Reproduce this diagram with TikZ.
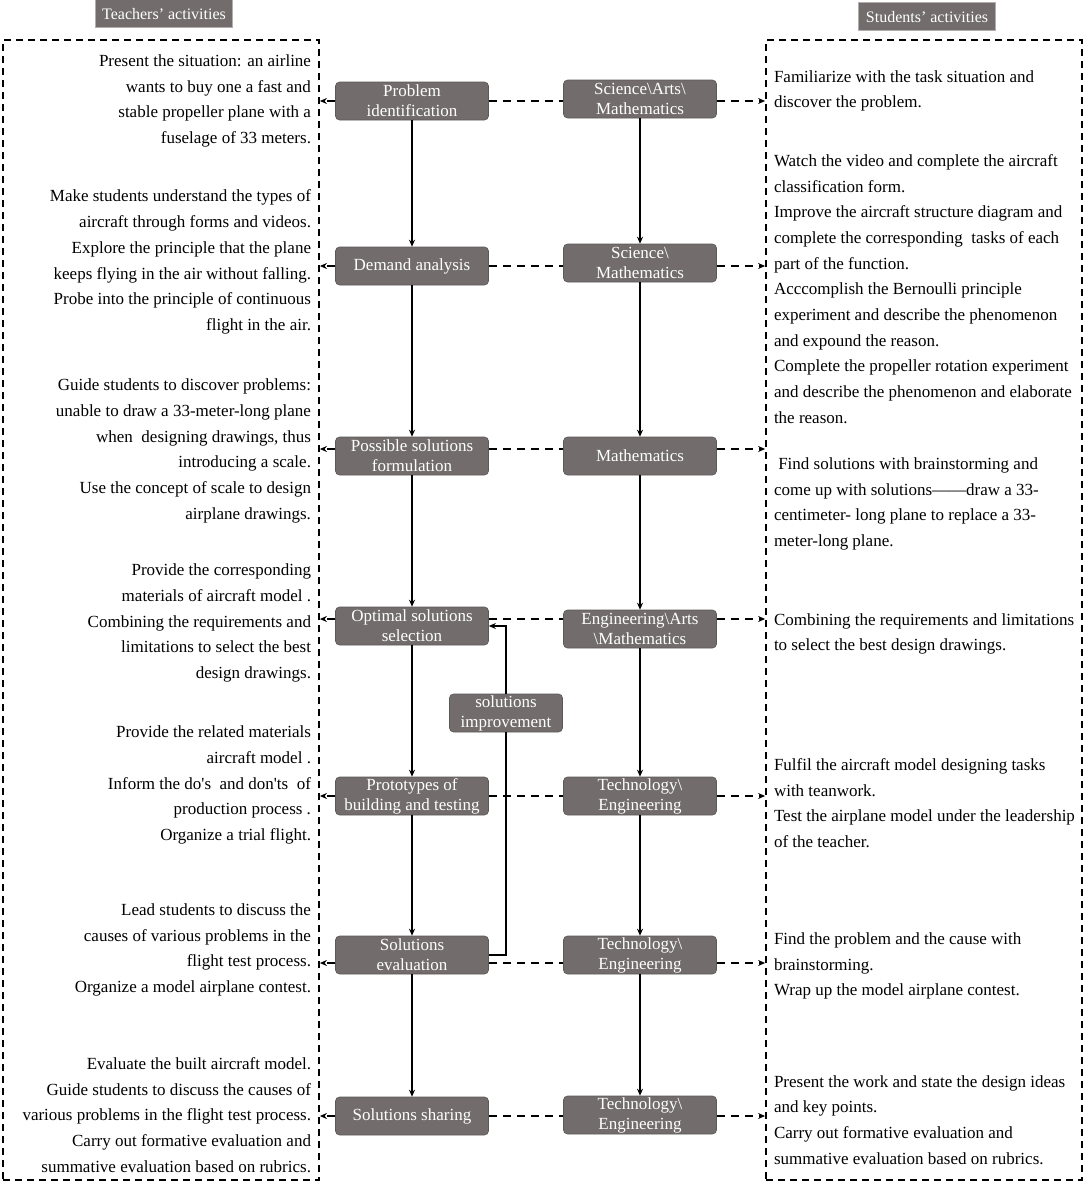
\documentclass[tikz,border=0pt]{standalone}
\usepackage{fontspec}
\usepackage{tikz}
\usetikzlibrary{shapes, arrows.meta, positioning}
\usepackage{xcolor}
\newfontfamily\tnr{Liberation Serif}
\definecolor{stagegray}{RGB}{114,108,108}
\definecolor{edgegray}{RGB}{92,88,88}

\begin{document}
\begin{tikzpicture}[x=1pt, y=-1pt, node distance=170pt]
            \tikzstyle{stage} = [rectangle, rounded corners=4pt, minimum width=153pt, minimum height=38pt, inner sep=0pt, text centered, align=center, fill=stagegray, draw=edgegray, line width=0.6pt, text=white, font=\tnr\fontsize{17}{20}\selectfont]
            \tikzstyle{headbox} = [rectangle, minimum width=137pt, minimum height=28pt, inner sep=0pt, fill=stagegray, draw=stagegray!55, line width=0.8pt, text=white, font=\tnr\fontsize{16}{17}\selectfont]
            \tikzstyle{lane} = [rectangle, draw=black, line width=1.8pt, dash pattern=on 7pt off 5pt, minimum width=316pt, minimum height=1140pt]
            \tikzstyle{tnote} = [inner sep=0pt, font=\tnr\fontsize{17}{25.7}\selectfont]
            \tikzstyle{arrow} = [line width=1.6pt, -{Stealth[length=7pt, width=6pt]}]
            \tikzstyle{link} = [line width=1.8pt, dash pattern=on 8pt off 6pt]
            \tikzstyle{tip} = [-{Stealth[length=7pt, width=6pt]}]
            \useasboundingbox (0,0) rectangle (1084,1183);

            % the two activity lanes
            \node (tf) [lane] at (161,610) {};
            \node (sf) [lane] at (924,610) {};
            \node (th) [headbox, above=11pt of tf, xshift=3pt] {Teachers’ activities};
            \node (sh) [headbox, above=8pt of sf, xshift=3pt] {Students’ activities};

            % stages
            \node (pi) [stage] at (412,101) {Problem\\identification};
            \node (da) [stage, below of=pi, yshift=5pt] {Demand analysis};
            \node (ps) [stage, below of=da, yshift=-20pt] {Possible solutions\\formulation};
            \node (os) [stage, below of=ps] {Optimal solutions\\selection};
            \node (pt) [stage, below of=os] {Prototypes of\\building and testing};
            \node (se) [stage, below of=pt, yshift=11pt] {Solutions\\evaluation};
            \node (ss) [stage, below of=se, yshift=9pt] {Solutions sharing};
            \node (si) [stage, minimum width=113pt, right of=os, xshift=-76pt, yshift=-87pt] {solutions\\improvement};

            % subjects
            \node (sam) [stage, right of=pi, xshift=58pt, yshift=2pt] {Science\textbackslash Arts\textbackslash\\Mathematics};
            \node (sm) [stage, right of=da, xshift=58pt, yshift=3pt] {Science\textbackslash\\Mathematics};
            \node (ma) [stage, right of=ps, xshift=58pt] {Mathematics};
            \node (eam) [stage, right of=os, xshift=58pt, yshift=-3pt] {Engineering\textbackslash Arts\\\textbackslash Mathematics};
            \node (te1) [stage, right of=pt, xshift=58pt] {Technology\textbackslash\\Engineering};
            \node (te2) [stage, right of=se, xshift=58pt] {Technology\textbackslash\\Engineering};
            \node (te3) [stage, right of=ss, xshift=58pt, yshift=1pt] {Technology\textbackslash\\Engineering};

            % teachers' notes
            \node (t1) [tnote, align=right, left=24pt of pi] {Present the situation: an airline\\wants to buy one a fast and\\stable propeller plane with a\\fuselage of 33 meters.};
            \node (t2) [tnote, align=right, left=24pt of da, yshift=4pt] {Make students understand the types of\\aircraft through forms and videos.\\Explore the principle that the plane\\keeps flying in the air without falling.\\Probe into the principle of continuous\\flight in the air.};
            \node (t3) [tnote, align=right, left=24pt of ps, yshift=5pt] {Guide students to discover problems:\\unable to draw a 33-meter-long plane\\when\ \ designing drawings, thus\\introducing a scale.\\Use the concept of scale to design\\airplane drawings.};
            \node (t4) [tnote, align=right, left=24pt of os, yshift=3pt] {Provide the corresponding\\materials of aircraft model .\\Combining the requirements and\\limitations to select the best\\design drawings.};
            \node (t5) [tnote, align=right, left=24pt of pt, yshift=11pt] {Provide the related materials\\aircraft model .\\Inform the do's\ \ and don'ts\ \ of\\production process .\\Organize a trial flight.};
            \node (t6) [tnote, align=right, left=24pt of se, yshift=5pt] {Lead students to discuss the\\causes of various problems in the\\flight test process.\\Organize a model airplane contest.};
            \node (t7) [tnote, align=right, left=24pt of ss, yshift=1pt] {Evaluate the built aircraft model.\\Guide students to discuss the causes of\\various problems in the flight test process.\\Carry out formative evaluation and\\summative evaluation based on rubrics.};

            % students' notes
            \node (n1) [tnote, align=left, right=57pt of sam, yshift=8pt] {Familiarize with the task situation and\\discover the problem.};
            \node (n2) [tnote, align=left, right=57pt of sm, yshift=-26pt] {Watch the video and complete the aircraft\\classification form.\\Improve the aircraft structure diagram and\\complete the corresponding\ \ tasks of each\\part of the function.\\Acccomplish the Bernoulli principle\\experiment and describe the phenomenon\\and expound the reason.\\Complete the propeller rotation experiment\\and describe the phenomenon and elaborate\\the reason.};
            \node (n3) [tnote, align=left, right=57pt of ma, yshift=-48pt] {\ Find solutions with brainstorming and\\come up with solutions——draw a 33-\\centimeter- long plane to replace a 33-\\meter-long plane.};
            \node (n4) [tnote, align=left, right=57pt of eam, yshift=-5pt] {Combining the requirements and limitations\\to select the best design drawings.};
            \node (n5) [tnote, align=left, right=57pt of te1, yshift=-7pt] {Fulfil the aircraft model designing tasks\\with teanwork.\\Test the airplane model under the leadership\\of the teacher.};
            \node (n6) [tnote, align=left, right=57pt of te2, yshift=-11pt] {Find the problem and the cause with\\brainstorming.\\Wrap up the model airplane contest.};
            \node (n7) [tnote, align=left, right=57pt of te3, yshift=-5pt] {Present the work and state the design ideas\\and key points.\\Carry out formative evaluation and\\summative evaluation based on rubrics.};

            % flow
            \draw [arrow] (pi.south) -- (da.north);
            \draw [arrow] (da.south) -- (ps.north);
            \draw [arrow] (ps.south) -- (os.north);
            \draw [arrow] (os.south) -- (pt.north);
            \draw [arrow] (pt.south) -- (se.north);
            \draw [arrow] (se.south) -- (ss.north);
            \draw [arrow] (sam.south) -- (sm.north);
            \draw [arrow] (sm.south) -- (ma.north);
            \draw [arrow] (ma.south) -- (eam.north);
            \draw [arrow] (eam.south) -- (te1.north);
            \draw [arrow] (te1.south) -- (te2.north);
            \draw [arrow] (te2.south) -- (te3.north);
            \draw [line width=1.6pt] (se.east) -| (si.south);
            \draw [arrow] (si.north) |- (os.east);

            % rows out to the lanes
            \coordinate (psw) at ([yshift=7pt]ps.west);
            \coordinate (pse) at ([yshift=7pt]ps.east);
            \coordinate (osw) at ([yshift=7pt]os.west);
            \coordinate (ose) at ([yshift=7pt]os.east);
            \coordinate (sew) at ([yshift=-8pt]se.west);
            \coordinate (see) at ([yshift=-8pt]se.east);
            \draw [link, tip] (pi.west) -- (pi.west -| tf.east);
            \draw [link] (pi.east) -- (pi.east -| sam.west);
            \draw [link, tip] (pi.east -| sam.east) -- (pi.east -| sf.west);
            \draw [link, tip] (da.west) -- (da.west -| tf.east);
            \draw [link] (da.east) -- (da.east -| sm.west);
            \draw [link, tip] (da.east -| sm.east) -- (da.east -| sf.west);
            \draw [link, tip] (psw) -- (psw -| tf.east);
            \draw [link] (pse) -- (pse -| ma.west);
            \draw [link, tip] (pse -| ma.east) -- (pse -| sf.west);
            \draw [link, tip] (osw) -- (osw -| tf.east);
            \draw [link] (ose) -- (ose -| eam.west);
            \draw [link, tip] (ose -| eam.east) -- (ose -| sf.west);
            \draw [link, tip] (pt.west) -- (pt.west -| tf.east);
            \draw [link] (pt.east) -- (pt.east -| te1.west);
            \draw [link, tip] (pt.east -| te1.east) -- (pt.east -| sf.west);
            \draw [link, tip] (sew) -- (sew -| tf.east);
            \draw [link] (see) -- (see -| te2.west);
            \draw [link, tip] (see -| te2.east) -- (see -| sf.west);
            \draw [link, tip] (ss.west) -- (ss.west -| tf.east);
            \draw [link] (ss.east) -- (ss.east -| te3.west);
            \draw [link, tip] (ss.east -| te3.east) -- (ss.east -| sf.west);
\end{tikzpicture}
\end{document}
